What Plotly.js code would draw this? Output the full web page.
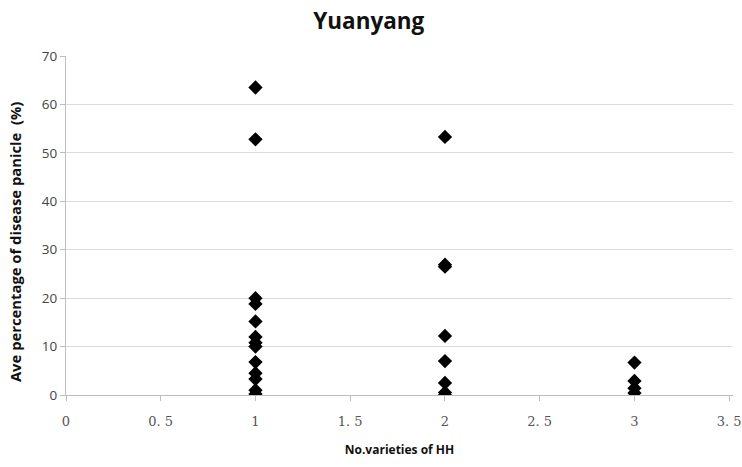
<!DOCTYPE html>
<html>
<head>
<meta charset="utf-8">
<script src="https://cdn.plot.ly/plotly-3.0.1.min.js"></script>
<style>html,body{margin:0;padding:0;background:#fff;}#chart{width:742px;height:467px;}</style>
</head>
<body>
<div id="chart"></div>
<script>
// Data
const xValues = [1,1,1,1,1,1,1,1,1,1,1,1,1, 2,2,2,2,2,2,2,2, 3,3,3,3];
const yValues = [63.5,52.8,20.0,18.8,15.2,12.0,10.8,10.0,6.8,4.5,3.3,1.0,0.2,
                 53.3,26.9,26.5,12.2,7.0,2.5,0.5,0.0,
                 6.7,2.9,1.4,0.4];
const xTickVals = [0,0.5,1,1.5,2,2.5,3,3.5];
const xTickText = ["0","0. 5","1","1. 5","2","2. 5","3","3. 5"];
const yTickVals = [0,10,20,30,40,50,60,70];
const yTitle = 'Ave percentage of disease panicle &nbsp;(%)';

const trace = {
  x: xValues, y: yValues, type: 'scatter', mode: 'markers',
  marker: {symbol: 'diamond', size: 11, color: '#000'},
  hoverinfo: 'none'
};
const layout = {
  width: 742, height: 467,
  margin: {l: 66, r: 9, t: 56, b: 72},
  paper_bgcolor: '#fff', plot_bgcolor: '#fff',
  showlegend: false,
  title: {text: '<b>Yuanyang</b>', x: 0.497, xanchor: 'center', y: 0.955, yanchor: 'middle',
          font: {family: 'Open Sans, Arial, sans-serif', size: 22.5, color: '#111'}},
  xaxis: {
    range: [0, 3.52], tickvals: xTickVals, ticktext: xTickText, ticklabeloverflow: 'allow',
    showgrid: false, zeroline: false, showline: true, linecolor: '#bdbdbd', linewidth: 1,
    ticks: 'outside', ticklen: 5, tickcolor: '#bdbdbd', ticklabelstandoff: 9,
    tickfont: {family: 'DejaVu Serif, serif', size: 13, color: '#555'},
    title: {text: '<b>No.varieties of HH</b>', standoff: 18,
            font: {family: 'Open Sans, Arial, sans-serif', size: 12, color: '#111'}}
  },
  yaxis: {
    range: [0, 70], tickvals: yTickVals,
    showgrid: true, gridcolor: '#dcdcdc', zeroline: false, showline: true, linecolor: '#bdbdbd', linewidth: 1,
    ticks: 'outside', ticklen: 5, tickcolor: '#bdbdbd',
    tickfont: {family: 'Open Sans, Arial, sans-serif', size: 13.5, color: '#444'}
  },
  annotations: [{
    text: '<b>' + yTitle + '</b>', textangle: -90, showarrow: false,
    xref: 'paper', yref: 'paper', x: -0.0765, y: 0.451, xanchor: 'center', yanchor: 'middle',
    font: {family: 'Open Sans, Arial, sans-serif', size: 14.8, color: '#111'}
  }]
};
Plotly.newPlot('chart', [trace], layout, {staticPlot: true, displayModeBar: false});
</script>
</body>
</html>
